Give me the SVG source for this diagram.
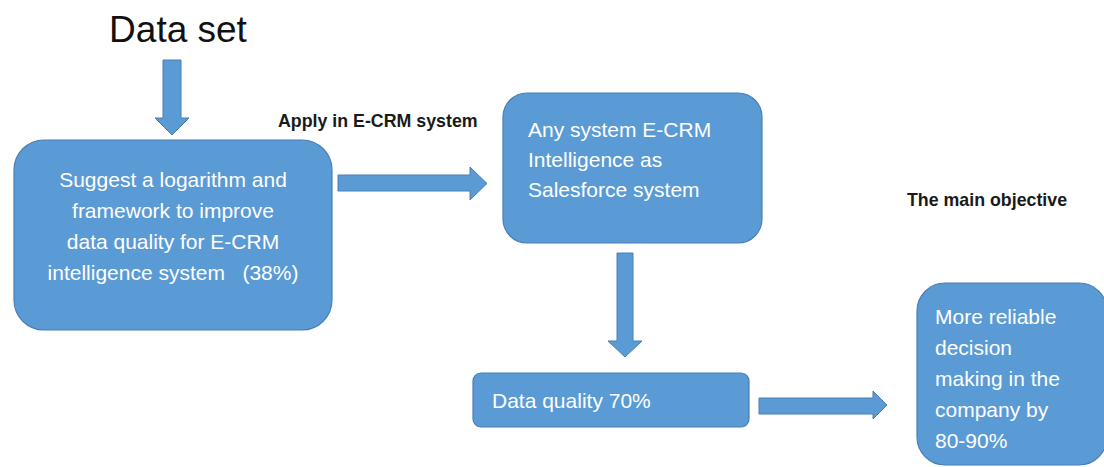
<svg xmlns="http://www.w3.org/2000/svg" width="1104" height="467" viewBox="0 0 1104 467">
<style>
.box{fill:#5B9BD5;stroke:#4A7FB5;stroke-width:1.2}
.arr{fill:#5B9BD5;stroke:#4A7FB5;stroke-width:1}
.wt{font-family:"Liberation Sans",Arial,sans-serif;font-size:21px;fill:#FFFFFF}
.lbl{font-family:"Liberation Sans",Arial,sans-serif;font-size:17.8px;font-weight:bold;fill:#1a1a1a}
.title{font-family:"Liberation Sans",Arial,sans-serif;font-size:37px;fill:#111111}
</style>
<rect width="1104" height="467" fill="#FFFFFF"/>
<g id="dataset">
<text class="title" x="178" y="42" text-anchor="middle">Data set</text>
</g>
<g id="node-suggest">
<rect class="box" x="14" y="140" width="318" height="190" rx="30" ry="30"/>
<text class="wt" text-anchor="middle" xml:space="preserve"><tspan x="173" y="187">Suggest a logarithm and</tspan><tspan x="173" y="218">framework to improve</tspan><tspan x="173" y="249">data quality for E-CRM</tspan><tspan x="173" y="280">intelligence system   (38%)</tspan></text>
</g>
<g id="node-ecrm">
<rect class="box" x="503" y="93" width="259" height="150" rx="24" ry="24"/>
<text class="wt"><tspan x="528" y="137">Any system E-CRM</tspan><tspan x="528" y="167">Intelligence as</tspan><tspan x="528" y="197">Salesforce system</tspan></text>
</g>
<g id="node-quality">
<rect class="box" x="473" y="373" width="276" height="54" rx="8" ry="8"/>
<text class="wt" x="492" y="408">Data quality 70%</text>
</g>
<g id="node-decision">
<rect class="box" x="917" y="283" width="190" height="182" rx="28" ry="28"/>
<text class="wt"><tspan x="935" y="324">More reliable</tspan><tspan x="935" y="355">decision</tspan><tspan x="935" y="386">making in the</tspan><tspan x="935" y="417">company by</tspan><tspan x="935" y="448">80-90%</tspan></text>
</g>
<g id="labels">
<text class="lbl" x="278" y="127">Apply in E-CRM system</text>
<text class="lbl" x="907" y="206">The main objective</text>
</g>
<g id="connectors">
<path class="arr" d="M163,60 H181 V118 H189 L172,135 L155,118 H163 Z"/>
<path class="arr" d="M338,175 H470 V167 L487,183.5 L470,200 V191 H338 Z"/>
<path class="arr" d="M617,253 H633 V341 H642 L625,357 L608,341 H617 Z"/>
<path class="arr" d="M759,398 H873 V391 L887,405 L873,419 V414 H759 Z"/>
</g>
</svg>
